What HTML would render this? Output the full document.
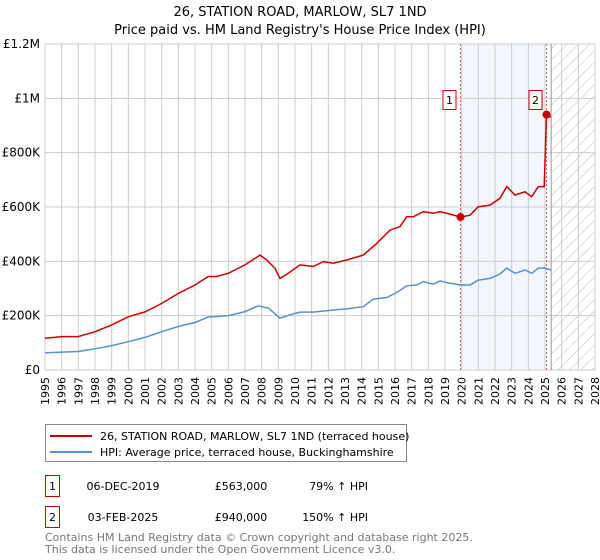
<!DOCTYPE html>
<html><head><meta charset="utf-8"><style>
html,body{margin:0;padding:0;background:#fff;width:600px;height:560px;overflow:hidden;font-family:"DejaVu Sans","Liberation Sans",sans-serif}
svg text{font-family:"DejaVu Sans","Liberation Sans",sans-serif}
</style></head><body>
<svg id="chart" width="600" height="560" viewBox="0 0 600 560" xmlns="http://www.w3.org/2000/svg">
<defs><pattern id="hatch" patternUnits="userSpaceOnUse" width="8" height="8" patternTransform="rotate(45)"><line x1="0" y1="0" x2="0" y2="8" stroke="#bbb" stroke-width="1"/></pattern></defs>
<text x="300" y="16" text-anchor="middle" font-size="13">26, STATION ROAD, MARLOW, SL7 1ND</text>
<text x="300" y="34" text-anchor="middle" font-size="13">Price paid vs. HM Land Registry's House Price Index (HPI)</text>
<g id="plot"></g>
<g>
<rect x="45.5" y="424.5" width="361" height="37" fill="#fff" stroke="#888"/>
<line x1="50" y1="436" x2="92" y2="436" stroke="#cc0000" stroke-width="2"/>
<text x="100" y="440" font-size="11">26, STATION ROAD, MARLOW, SL7 1ND (terraced house)</text>
<line x1="50" y1="452" x2="92" y2="452" stroke="#5b8fd4" stroke-width="2"/>
<text x="100" y="456" font-size="11">HPI: Average price, terraced house, Buckinghamshire</text>
</g>
<g font-size="11">
<rect x="45.5" y="475.5" width="14" height="21" fill="#fff" stroke="#cc0000"/>
<text x="52.5" y="490" text-anchor="middle">1</text>
<text x="123" y="490" text-anchor="middle">06-DEC-2019</text>
<text x="241" y="490" text-anchor="middle">£563,000</text>
<text x="368" y="490" text-anchor="end">79% ↑ HPI</text>
<rect x="45.5" y="506.5" width="14" height="21" fill="#fff" stroke="#cc0000"/>
<text x="52.5" y="521" text-anchor="middle">2</text>
<text x="123" y="521" text-anchor="middle">03-FEB-2025</text>
<text x="241" y="521" text-anchor="middle">£940,000</text>
<text x="368" y="521" text-anchor="end">150% ↑ HPI</text>
</g>
<text x="45" y="541" font-size="11" fill="#777">Contains HM Land Registry data © Crown copyright and database right 2025.</text>
<text x="45" y="553" font-size="11" fill="#777">This data is licensed under the Open Government Licence v3.0.</text>
</svg>
<script>
const yTicks=[0,200000,400000,600000,800000,1000000,1200000];
const yTickLabels=["£0","£200K","£400K","£600K","£800K","£1M","£1.2M"];
const years=[1995,1996,1997,1998,1999,2000,2001,2002,2003,2004,2005,2006,2007,2008,2009,2010,2011,2012,2013,2014,2015,2016,2017,2018,2019,2020,2021,2022,2023,2024,2025,2026,2027,2028];
const propDates=[1995,1996,1997,1998,1999,2000,2001,2002,2003,2004,2004.8,2005.3,2006,2007,2007.9,2008.3,2008.8,2009.1,2009.6,2010.3,2011.1,2011.7,2012.3,2013.1,2014.1,2014.9,2015.7,2016.3,2016.7,2017.1,2017.7,2018.3,2018.7,2019.3,2019.93,2020.5,2021,2021.7,2022.3,2022.7,2023.2,2023.8,2024.2,2024.6,2024.95,2025.09,2025.35];
const propValues=[117000,123000,123000,141000,166000,196000,214000,245000,282000,313000,344000,344000,356000,387000,423000,405000,374000,337000,356000,387000,381000,399000,393000,405000,423000,466000,515000,528000,564000,564000,583000,577000,583000,574000,563000,570000,601000,607000,632000,675000,644000,656000,638000,675000,675000,940000,930000];
const hpiDates=[1995,1996,1997,1998,1999,2000,2001,2002,2003,2004,2004.8,2006,2007,2007.8,2008.4,2009.1,2009.8,2010.3,2011.1,2012.3,2013.1,2014.1,2014.7,2015.5,2016.1,2016.7,2017.3,2017.7,2018.3,2018.7,2019.3,2019.93,2020.5,2021,2021.7,2022.3,2022.7,2023.2,2023.8,2024.2,2024.6,2025.0,2025.35];
const hpiValues=[63000,66000,68000,78000,90000,104000,120000,141000,160000,175000,195000,200000,215000,236000,228000,191000,205000,213000,213000,221000,225000,233000,261000,267000,285000,310000,313000,325000,316000,328000,319000,313000,313000,331000,337000,353000,375000,356000,368000,356000,375000,375000,368000];
const sales=[{n:"1",d:2019.93,v:563000},{n:"2",d:2025.09,v:940000}];
const X0=45,X1=595,Y0=370,Y1=44;
const xs=d=>X0+(d-1995)/33*(X1-X0);
const ys=v=>Y0-v/1200000*(Y0-Y1);
const NS="http://www.w3.org/2000/svg";
const g=document.getElementById('plot');
function mk(t,a,p){const e=document.createElementNS(NS,t);for(const k in a)e.setAttribute(k,a[k]);(p||g).appendChild(e);return e;}
// shaded region between sales
let sh=mk('rect',{x:xs(2019.93),y:Y1,width:xs(2025.09)-xs(2019.93),height:Y0-Y1,fill:'#eef3fc',opacity:0.75});


let ht=mk('rect',{x:xs(2025.37),y:Y1,width:X1-xs(2025.37),height:Y0-Y1,fill:'url(#hatch)'});


years.forEach(y=>{const l=mk('line',{x1:xs(y),x2:xs(y),y1:Y1,y2:Y0,stroke:'#ccc','stroke-width':1});


const t=mk('text',{x:0,y:0,'font-size':11,transform:`translate(${xs(y)+4},405) rotate(-90)`});t.textContent=y;

});
yTicks.forEach((v,i)=>{const l=mk('line',{x1:X0,x2:X1,y1:ys(v),y2:ys(v),stroke:'#ccc','stroke-width':1});


const t=mk('text',{x:40,y:ys(v)+4,'text-anchor':'end','font-size':12});t.textContent=yTickLabels[i];

});
let nl=mk('line',{x1:xs(2025.37),x2:xs(2025.37),y1:Y1,y2:Y0,stroke:'#999','stroke-width':1});


sales.forEach(s=>{const l=mk('line',{x1:xs(s.d),x2:xs(s.d),y1:Y1,y2:Y0,stroke:'#e06666','stroke-width':1,'stroke-dasharray':'2,2'});

});
const path=(D,V)=>D.map((d,i)=>(i?'L':'M')+xs(d).toFixed(1)+','+ys(V[i]).toFixed(1)).join('');
let hp=mk('path',{d:path(hpiDates,hpiValues),fill:'none',stroke:'#5b8fd4','stroke-width':1.5});


let pp=mk('path',{d:path(propDates,propValues),fill:'none',stroke:'#cc0000','stroke-width':1.5});


sales.forEach(s=>{const c=mk('circle',{cx:xs(s.d),cy:ys(s.v),r:4,fill:'#cc0000'});


const bx=xs(s.d)-11,by=90;
const r=mk('rect',{x:bx-6.5,y:by+0.5,width:13,height:19,fill:'#fff',stroke:'#cc0000'});


const t=mk('text',{x:bx,y:by+14,'text-anchor':'middle','font-size':11});t.textContent=s.n;

});
</script>
</body></html>
